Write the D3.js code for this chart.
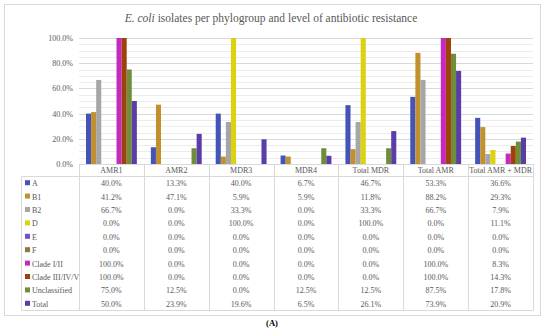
<!DOCTYPE html>
<html>
<head>
<meta charset="utf-8">
<script src="https://cdn.jsdelivr.net/npm/d3@7"></script>
<style>
  html, body { margin: 0; padding: 0; background: #fff; }
  svg text { font-family: "Liberation Serif", "DejaVu Serif", serif; fill: #595959; }
</style>
</head>
<body>
<svg id="chart" width="550" height="332"></svg>
<script>
// categories (x groups) and series (phylogroups)
const categories = ["AMR1", "AMR2", "MDR3", "MDR4", "Total MDR", "Total AMR", "Total AMR + MDR"];
const seriesNames = ["A", "B1", "B2", "D", "E", "F", "Clade I/II", "Clade III/IV/V", "Unclassified", "Total"];
const seriesColors = ["#4453b8", "#c0912e", "#a6a6a6", "#dcd20e", "#7b4fc2", "#8c7a3c", "#c42ac0", "#a0410c", "#6e8e3a", "#5a3da6"];

// percentage values, one array per series, in category order
const valA   = [40.0, 13.3, 40.0, 6.7, 46.7, 53.3, 36.6];
const valB1  = [41.2, 47.1, 5.9, 5.9, 11.8, 88.2, 29.3];
const valB2  = [66.7, 0.0, 33.3, 0.0, 33.3, 66.7, 7.9];
const valD   = [0.0, 0.0, 100.0, 0.0, 100.0, 0.0, 11.1];
const valE   = [0.0, 0.0, 0.0, 0.0, 0.0, 0.0, 0.0];
const valF   = [0.0, 0.0, 0.0, 0.0, 0.0, 0.0, 0.0];
const valC12 = [100.0, 0.0, 0.0, 0.0, 0.0, 100.0, 8.3];
const valC3  = [100.0, 0.0, 0.0, 0.0, 0.0, 100.0, 14.3];
const valUnc = [75.0, 12.5, 0.0, 12.5, 12.5, 87.5, 17.8];
const valTot = [50.0, 23.9, 19.6, 6.5, 26.1, 73.9, 20.9];
const seriesValues = [valA, valB1, valB2, valD, valE, valF, valC12, valC3, valUnc, valTot];

const yTicks = [0, 20, 40, 60, 80, 100];

const svg = d3.select("#chart");

// outer frame
svg.append("rect")
  .attr("x", 4.5).attr("y", 4.5)
  .attr("width", 536).attr("height", 311)
  .attr("fill", "none").attr("stroke", "#d9d9d9");

svg.append("text")
  .attr("x", 271).attr("y", 22)
  .attr("text-anchor", "middle")
  .attr("font-size", 11.5)
  .call((t) => {
    t.append("tspan").attr("font-style", "italic").text("E. coli");
    t.append("tspan").text(" isolates per phylogroup and level of antibiotic resistance");
  });

const plotLeft = 79, plotRight = 533, plotTop = 38, plotBottom = 164;
const x = d3.scaleBand().domain(categories).range([plotLeft, plotRight]);
const xInner = d3.scaleBand().domain(seriesNames).range([7, x.bandwidth() - 7]);
const y = d3.scaleLinear().domain([0, 100]).range([plotBottom, plotTop]);

// gridlines
const grid = svg.append("g");
grid.selectAll("line")
  .data(d3.range(5, 101, 5))
  .join("line")
  .attr("x1", plotLeft).attr("x2", plotRight)
  .attr("y1", (d) => Math.round(y(d)) + 0.5)
  .attr("y2", (d) => Math.round(y(d)) + 0.5)
  .attr("stroke", (d) => (d % 20 === 0 ? "#d9d9d9" : "#ececec"));

// y axis labels
svg.append("g")
  .selectAll("text")
  .data(yTicks)
  .join("text")
  .attr("x", 73)
  .attr("y", (d) => y(d) + 3)
  .attr("text-anchor", "end")
  .attr("font-size", 8)
  .text((d) => d.toFixed(1) + "%");

// bars
const groups = svg.append("g")
  .selectAll("g")
  .data(seriesNames)
  .join("g")
  .attr("fill", (d, i) => seriesColors[i]);

groups.selectAll("rect")
  .data((d, i) => seriesValues[i].map((v, j) => ({ s: d, cat: categories[j], v })))
  .join("rect")
  .attr("x", (d) => x(d.cat) + xInner(d.s))
  .attr("width", xInner.bandwidth())
  .attr("y", (d) => y(d.v))
  .attr("height", (d) => plotBottom - y(d.v));

// data table
const rowTop = 176.5, rowH = 13.4;
const tableBottom = rowTop + rowH * seriesNames.length;
const lines = svg.append("g").attr("stroke", "#d9d9d9").attr("fill", "none");
lines.append("line").attr("x1", plotLeft).attr("x2", plotRight).attr("y1", plotBottom + 0.5).attr("y2", plotBottom + 0.5);
lines.append("line").attr("x1", 21.5).attr("x2", plotRight).attr("y1", rowTop).attr("y2", rowTop);
lines.append("line").attr("x1", 21.5).attr("x2", plotRight).attr("y1", tableBottom).attr("y2", tableBottom);
lines.append("line").attr("x1", 21.5).attr("x2", 21.5).attr("y1", rowTop).attr("y2", tableBottom);
lines.selectAll("line.v")
  .data(categories.map((c) => x(c)).concat([plotRight]))
  .join("line")
  .attr("class", "v")
  .attr("x1", (d) => Math.round(d) + 0.5).attr("x2", (d) => Math.round(d) + 0.5)
  .attr("y1", plotBottom).attr("y2", tableBottom);

svg.append("g")
  .selectAll("text")
  .data(categories)
  .join("text")
  .attr("x", (d) => x(d) + x.bandwidth() / 2)
  .attr("y", plotBottom + 9)
  .attr("text-anchor", "middle")
  .attr("font-size", 8)
  .text((d) => d);

const rows = svg.append("g")
  .selectAll("g")
  .data(seriesNames)
  .join("g")
  .attr("transform", (d, i) => `translate(0,${rowTop + rowH * i + rowH / 2})`);

rows.append("rect")
  .attr("x", 25).attr("y", -3)
  .attr("width", 5).attr("height", 5)
  .attr("fill", (d, i) => seriesColors[i]);

rows.append("text")
  .attr("x", 32).attr("y", 3)
  .attr("font-size", 8)
  .text((d) => d);

rows.selectAll("text.v")
  .data((d, i) => seriesValues[i].map((v, j) => ({ v, cat: categories[j] })))
  .join("text")
  .attr("class", "v")
  .attr("x", (d) => x(d.cat) + x.bandwidth() / 2)
  .attr("y", 3)
  .attr("text-anchor", "middle")
  .attr("font-size", 8)
  .text((d) => d.v.toFixed(1) + "%");

svg.append("text")
  .attr("x", 272).attr("y", 326)
  .attr("text-anchor", "middle")
  .attr("font-size", 8.5)
  .attr("font-weight", "bold")
  .style("fill", "#000")
  .text("(A)");
</script>
</body>
</html>
